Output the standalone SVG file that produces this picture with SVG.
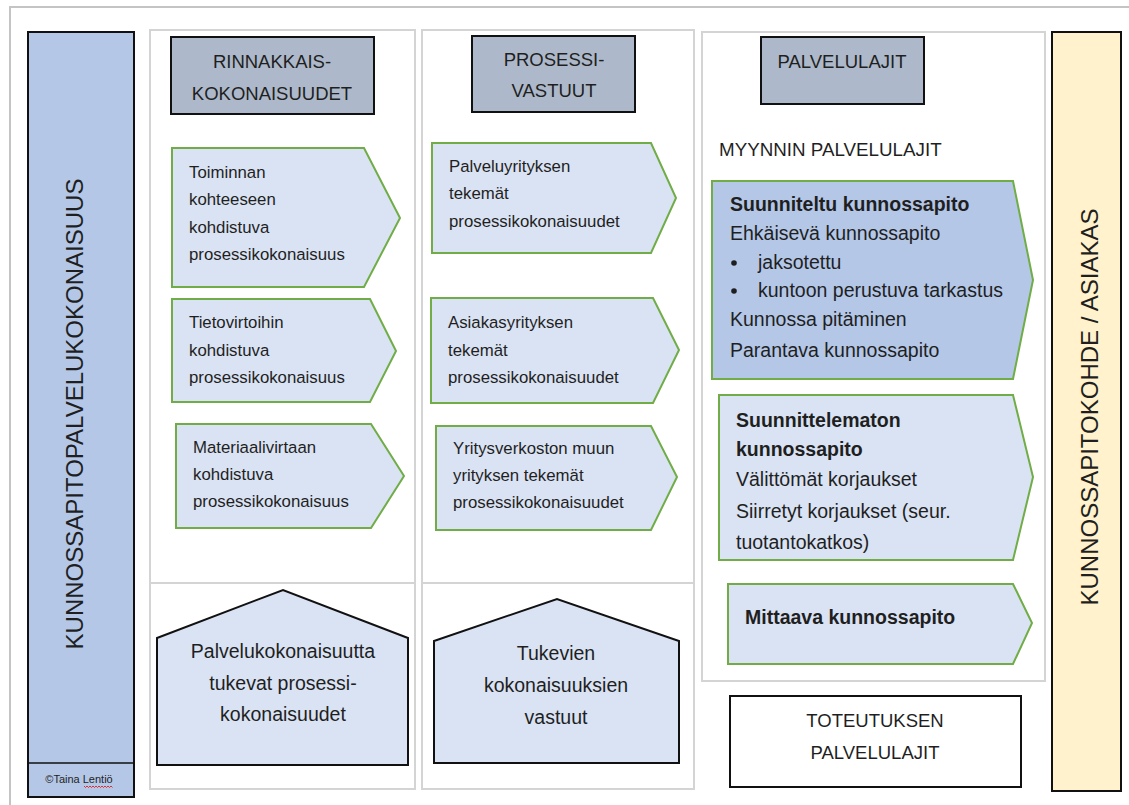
<svg xmlns="http://www.w3.org/2000/svg" width="1129" height="805" viewBox="0 0 1129 805">
<style>
text{font-family:"Liberation Sans",Arial,sans-serif;fill:#1f1f1f}
.panel{fill:#fff;stroke:#d4d4d4;stroke-width:2}
.hdr{fill:#adb9ca;stroke:#111;stroke-width:2}
.pent{fill:#dae3f3;stroke:#70ad47;stroke-width:2}
.pentd{fill:#b4c7e7;stroke:#70ad47;stroke-width:2}
.house{fill:#dae3f3;stroke:#111;stroke-width:2}
.ht{font-size:18.5px;text-anchor:middle}
.s1{font-size:16.8px}
.s3{font-size:19.5px}
.b{font-weight:bold}
.hs{font-size:19.5px;text-anchor:middle}
</style>
<rect width="1129" height="805" fill="#fff"/>
<rect x="10" y="7" width="1140" height="820" fill="none" stroke="#c4c4c4" stroke-width="2"/>

<g id="panels">
<rect class="panel" x="150" y="30" width="265" height="553"/>
<rect class="panel" x="150" y="583" width="265" height="206"/>
<rect class="panel" x="422" y="30" width="272" height="553"/>
<rect class="panel" x="422" y="583" width="272" height="206"/>
<rect class="panel" x="702" y="32" width="343" height="649"/>
</g>

<g id="left-bar">
<rect x="28" y="32" width="106" height="765" fill="#b4c7e7" stroke="#111" stroke-width="2"/>
<line x1="28" y1="763" x2="134" y2="763" stroke="#111" stroke-width="1.5"/>
<text transform="translate(83,414) rotate(-90)" font-size="24" text-anchor="middle">KUNNOSSAPITOPALVELUKOKONAISUUS</text>
<text x="79" y="783" font-size="11" text-anchor="middle">©Taina Lentiö</text>
<path d="M84,786 l1.5,1.5 l1.5,-1.5 l1.5,1.5 l1.5,-1.5 l1.5,1.5 l1.5,-1.5 l1.5,1.5 l1.5,-1.5 l1.5,1.5 l1.5,-1.5 l1.5,1.5 l1.5,-1.5 l1.5,1.5 l1.5,-1.5 l1.5,1.5 l1.5,-1.5 l1.5,1.5 l1.5,-1.5 l1.5,1.5" fill="none" stroke="#e02020" stroke-width="0.9"/>
</g>

<g id="right-bar">
<rect x="1052" y="32" width="69" height="759" fill="#fff2cc" stroke="#111" stroke-width="2"/>
<text transform="translate(1098,407) rotate(-90)" font-size="24" text-anchor="middle">KUNNOSSAPITOKOHDE / ASIAKAS</text>
</g>

<g id="hdr-rinnakkais">
<rect class="hdr" x="171" y="37" width="203" height="77"/>
<text class="ht" x="272" y="68">RINNAKKAIS-</text>
<text class="ht" x="272" y="100">KOKONAISUUDET</text>
</g>
<g id="hdr-prosessi">
<rect class="hdr" x="472" y="36" width="163" height="76"/>
<text class="ht" x="554" y="66">PROSESSI-</text>
<text class="ht" x="554" y="97">VASTUUT</text>
</g>
<g id="hdr-palvelulajit">
<rect class="hdr" x="761" y="37" width="163" height="67"/>
<text class="ht" x="842" y="68">PALVELULAJIT</text>
</g>

<text x="719" y="156" font-size="18.8">MYYNNIN PALVELULAJIT</text>

<g id="p-toiminnan">
<polygon class="pent" points="172,148 364,148 400,218 364,287 172,287"/>
<text class="s1"><tspan x="189" y="178">Toiminnan</tspan><tspan x="189" y="205">kohteeseen</tspan><tspan x="189" y="233">kohdistuva</tspan><tspan x="189" y="260">prosessikokonaisuus</tspan></text>
</g>
<g id="p-tietovirtoihin">
<polygon class="pent" points="172,299 370,299 396,351 370,402 172,402"/>
<text class="s1"><tspan x="189" y="328">Tietovirtoihin</tspan><tspan x="189" y="356">kohdistuva</tspan><tspan x="189" y="383">prosessikokonaisuus</tspan></text>
</g>
<g id="p-materiaali">
<polygon class="pent" points="176,424 371,424 404,476 371,528 176,528"/>
<text class="s1"><tspan x="193" y="453">Materiaalivirtaan</tspan><tspan x="193" y="480">kohdistuva</tspan><tspan x="193" y="507">prosessikokonaisuus</tspan></text>
</g>

<g id="p-palveluyritys">
<polygon class="pent" points="432,143 651,143 676,198 651,253 432,253"/>
<text class="s1"><tspan x="449" y="172">Palveluyrityksen</tspan><tspan x="449" y="199">tekemät</tspan><tspan x="449" y="227">prosessikokonaisuudet</tspan></text>
</g>
<g id="p-asiakasyritys">
<polygon class="pent" points="431,298 653,298 679,350 653,403 431,403"/>
<text class="s1"><tspan x="448" y="328">Asiakasyrityksen</tspan><tspan x="448" y="356">tekemät</tspan><tspan x="448" y="383">prosessikokonaisuudet</tspan></text>
</g>
<g id="p-yritysverkosto">
<polygon class="pent" points="436,426 651,426 677,477 651,530 436,530"/>
<text class="s1"><tspan x="453" y="454">Yritysverkoston muun</tspan><tspan x="453" y="481">yrityksen tekemät</tspan><tspan x="453" y="508">prosessikokonaisuudet</tspan></text>
</g>

<g id="p-suunniteltu">
<polygon class="pentd" points="712,181 1013,181 1033,280 1013,379 712,379"/>
<text class="s3 b" x="730" y="211">Suunniteltu kunnossapito</text>
<text class="s3" x="730" y="240">Ehkäisevä kunnossapito</text>
<circle cx="734" cy="263" r="2.8" fill="#1f1f1f"/>
<text class="s3" x="758" y="269">jaksotettu</text>
<circle cx="734" cy="291" r="2.8" fill="#1f1f1f"/>
<text class="s3" x="758" y="297">kuntoon perustuva tarkastus</text>
<text class="s3" x="730" y="326">Kunnossa pitäminen</text>
<text class="s3" x="730" y="357">Parantava kunnossapito</text>
</g>
<g id="p-suunnittelematon">
<polygon class="pent" points="719,395 1013,395 1033,477 1013,560 719,560"/>
<text class="s3 b" x="736" y="427">Suunnittelematon</text>
<text class="s3 b" x="736" y="456">kunnossapito</text>
<text class="s3" x="736" y="486">Välittömät korjaukset</text>
<text class="s3" x="736" y="518">Siirretyt korjaukset (seur.</text>
<text class="s3" x="736" y="549">tuotantokatkos)</text>
</g>
<g id="p-mittaava">
<polygon class="pent" points="728,584 1013,584 1032,623 1013,664 728,664"/>
<text class="s3 b" x="745" y="624">Mittaava kunnossapito</text>
</g>

<g id="toteutuksen">
<rect x="730" y="696" width="291" height="91" fill="#fff" stroke="#111" stroke-width="2"/>
<text class="ht" x="875" y="727">TOTEUTUKSEN</text>
<text class="ht" x="875" y="759">PALVELULAJIT</text>
</g>

<g id="house-palvelu">
<polygon class="house" points="157,638 283,590 408,638 408,765 157,765"/>
<text class="hs"><tspan x="283" y="658">Palvelukokonaisuutta</tspan><tspan x="283" y="690">tukevat prosessi-</tspan><tspan x="283" y="721">kokonaisuudet</tspan></text>
</g>
<g id="house-tukevien">
<polygon class="house" points="434,641 557,599 679,641 679,763 434,763"/>
<text class="hs"><tspan x="556" y="660">Tukevien</tspan><tspan x="556" y="692">kokonaisuuksien</tspan><tspan x="556" y="724">vastuut</tspan></text>
</g>
<g id="connectors"></g>
</svg>
